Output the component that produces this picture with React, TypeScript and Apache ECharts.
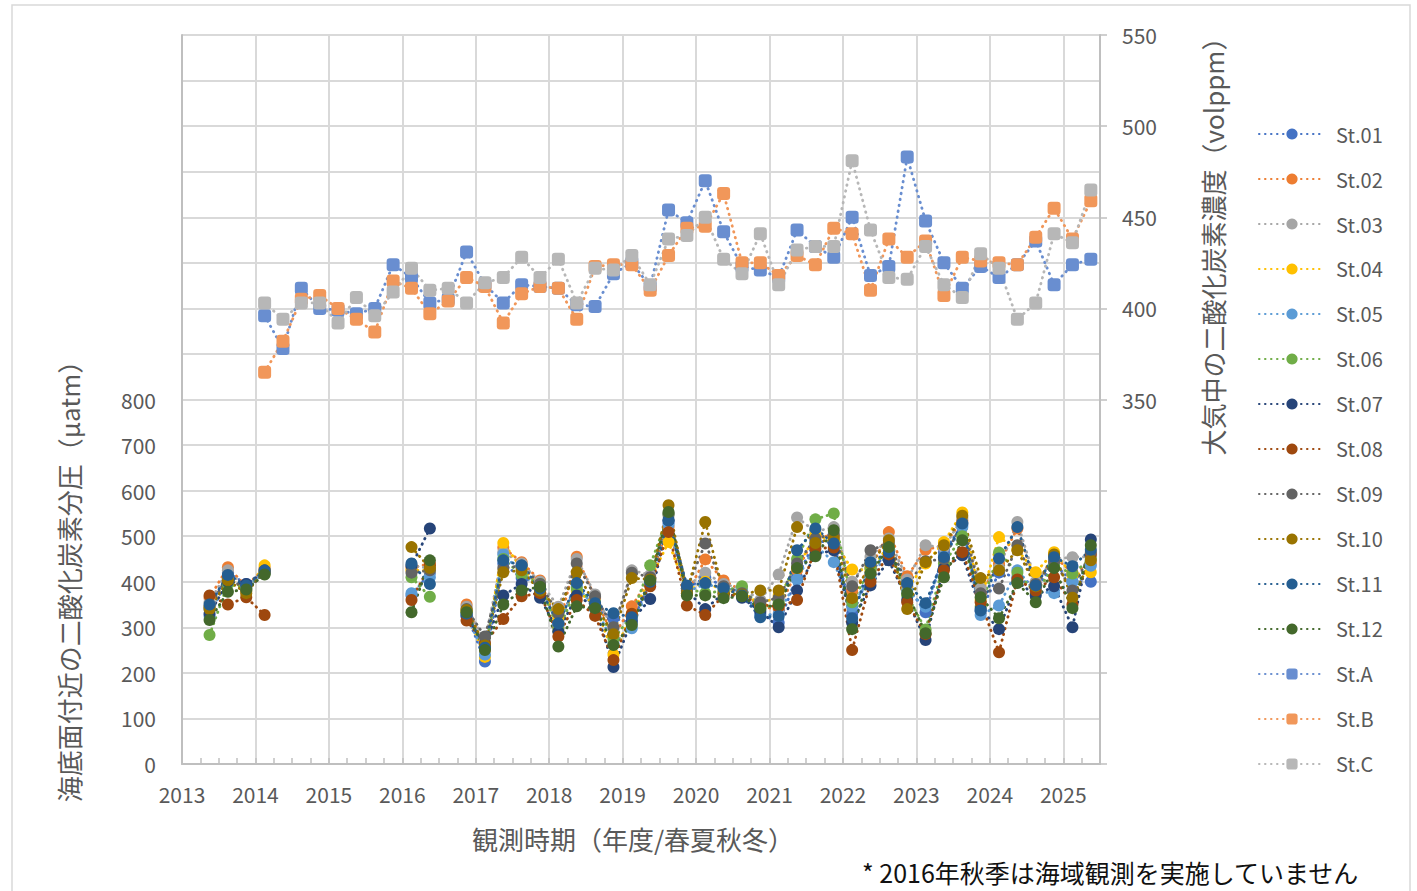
import React, { useEffect, useRef } from "react";
import * as echarts from "echarts";

const _ = null;

// Season slots: fiscal-year quarters, first slot = spring 2013 (index 0) ... spring 2025 (index 48)
const seasonCount = 49;
const firstSlot = 2013.375;
const slotWidth = 0.25;

const stationNames = ["St.01", "St.02", "St.03", "St.04", "St.05", "St.06", "St.07", "St.08", "St.09", "St.10", "St.11", "St.12"];
const atmosNames = ["St.A", "St.B", "St.C"];

const st01 = [340, 420, 395, 425, _, _, _, _, _, _, _, 370, 420, _, 330, 225, 440, 408, 395, 310, 395, 340, 320, 310, 400, 530, 385, 410, 390, 375, 330, 310, 410, 490, 485, 330, 420, 470, 390, 333, 465, 525, 335, 420, 410, 385, 440, 400, 400];
const st02 = [365, 432, 390, 430, _, _, _, _, _, _, _, 430, 440, _, 350, 250, 475, 443, 403, 300, 455, 365, 280, 346, 410, 520, 375, 449, 403, 380, 345, 340, 425, 500, 500, 380, 430, 509, 412, 470, 480, 535, 375, 440, 517, 395, 455, 420, 440];
const st03 = [355, 425, 385, 428, _, _, _, _, _, _, _, 435, 430, _, 345, 270, 465, 440, 400, 345, 450, 372, 295, 425, 415, 545, 390, 420, 395, 385, 360, 416, 541, 510, 520, 400, 455, 495, 405, 480, 475, 540, 385, 430, 531, 400, 450, 454, 455];
const st04 = [345, 410, 380, 436, _, _, _, _, _, _, _, 425, 425, _, 335, 235, 485, 430, 390, 320, 380, 350, 240, 330, 405, 487, 380, 400, 380, 378, 350, 370, 430, 502, 490, 427, 425, 480, 385, 440, 487, 552, 360, 498, 470, 421, 465, 415, 421];
const st05 = [325, 408, 388, 420, _, _, _, _, _, _, _, 375, 410, _, 325, 240, 460, 420, 385, 305, 390, 345, 265, 298, 395, 525, 378, 395, 385, 380, 325, 330, 405, 480, 443, 345, 410, 465, 380, 345, 455, 520, 327, 348, 425, 380, 375, 400, 435];
const st06 = [283, 395, 386, 418, _, _, _, _, _, _, _, 410, 367, _, 335, 255, 450, 415, 395, 295, 385, 355, 275, 325, 436, 548, 385, 375, 380, 390, 340, 355, 450, 537, 550, 355, 430, 470, 370, 295, 440, 500, 345, 464, 420, 375, 435, 418, 450];
const st07 = [330, 400, 395, 422, _, _, _, _, _, _, _, 435, 517, _, 325, 260, 370, 395, 365, 290, 370, 345, 213, 315, 362, 535, 380, 340, 375, 365, 335, 300, 381, 460, 469, 310, 392, 447, 360, 272, 430, 458, 340, 296, 400, 370, 390, 300, 493];
const st08 = [370, 350, 366, 327, _, _, _, _, _, _, _, 360, 436, _, 315, 265, 318, 368, 375, 280, 360, 325, 228, 330, 390, 509, 348, 327, 370, 370, 350, 345, 360, 473, 475, 250, 400, 460, 355, 285, 425, 465, 355, 245, 405, 380, 410, 350, 460];
const st09 = [345, 412, 380, 420, _, _, _, _, _, _, _, 420, 425, _, 340, 280, 430, 435, 395, 330, 440, 368, 300, 420, 410, 550, 385, 484, 390, 375, 355, 365, 440, 495, 505, 390, 469, 485, 395, 445, 450, 530, 375, 385, 480, 395, 445, 381, 465];
const st10 = [340, 403, 375, 425, _, _, _, _, _, _, _, 476, 430, _, 338, 260, 421, 425, 380, 340, 421, 350, 285, 408, 405, 568, 375, 531, 375, 372, 381, 381, 520, 485, 495, 364, 440, 491, 340, 443, 480, 545, 408, 425, 469, 390, 460, 365, 447];
const st11 = [350, 415, 392, 425, _, _, _, _, _, _, _, 440, 395, _, 330, 255, 447, 436, 385, 309, 397, 353, 331, 322, 400, 535, 392, 397, 386, 370, 322, 325, 469, 517, 484, 320, 443, 465, 397, 353, 454, 528, 337, 451, 520, 392, 454, 434, 470];
const st12 = [316, 378, 383, 416, _, _, _, _, _, _, _, 333, 447, _, 333, 250, 350, 381, 389, 258, 346, 342, 261, 305, 403, 553, 370, 370, 364, 368, 342, 350, 430, 456, 513, 296, 418, 476, 375, 287, 410, 491, 366, 320, 397, 355, 430, 342, 480];

const stA = [_, _, _, 396, 378, 411, 400, 399, 397, 400, 424, 417, 403, 405, 431, 413, 403, 413, 412, 411, 402, 401, 419, 425, 412, 454, 447, 470, 442, 423, 421, 417, 443, 434, 428, 450, 418, 423, 483, 448, 425, 411, 423, 417, 424, 437, 413, 424, 427];
const stB = [_, _, _, 365, 382, 405, 407, 400, 394, 387, 415, 411, 397, 404, 417, 412, 392, 408, 412, 411, 394, 423, 424, 424, 410, 429, 444, 445, 463, 425, 425, 418, 429, 424, 444, 441, 410, 438, 428, 437, 407, 428, 426, 425, 424, 439, 455, 438, 459];
const stC = [_, _, _, 403, 394, 403, 403, 392, 406, 396, 409, 422, 410, 411, 403, 414, 417, 428, 417, 427, 403, 422, 421, 429, 413, 438, 440, 450, 427, 419, 441, 413, 432, 434, 434, 481, 443, 417, 416, 434, 413, 406, 430, 422, 394, 403, 441, 436, 465];

const stationValues = [st01, st02, st03, st04, st05, st06, st07, st08, st09, st10, st11, st12];
const atmosValues = [stA, stB, stC];

const stationColors = ["#4472C4", "#ED7D31", "#A5A5A5", "#FFC000", "#5B9BD5", "#70AD47", "#264478", "#9E480E", "#636363", "#997300", "#255E91", "#43682B"];
const atmosColors = ["#698ED0", "#F1975A", "#B7B7B7"];

const leftTicksShownMax = 800;
const rightTicksShownMin = 350;

const FONT = "'Noto Sans CJK JP', 'Noto Sans', sans-serif";

export default function App() {
  const ref = useRef<HTMLDivElement>(null);
  useEffect(() => {
    if (!ref.current) return;
    const chart = echarts.init(ref.current, undefined, { renderer: "svg" });
    const xs = Array.from({ length: seasonCount }, (_v, i) => firstSlot + slotWidth * i);
    const toData = (arr: (number | null)[]) => arr.map((v, i) => [xs[i], v == null ? "-" : v]);
    const dotted = [0.5, 5.5];
    const series: any[] = [];
    stationNames.forEach((name, i) => {
      series.push({
        name,
        type: "line",
        yAxisIndex: 0,
        data: toData(stationValues[i]),
        symbol: "circle",
        symbolSize: 12,
        connectNulls: false,
        itemStyle: { color: stationColors[i] },
        lineStyle: { color: stationColors[i], width: 2.8, type: dotted, cap: "round" },
        emphasis: { disabled: true },
      });
    });
    atmosNames.forEach((name, i) => {
      series.push({
        name,
        type: "line",
        yAxisIndex: 1,
        data: toData(atmosValues[i]),
        symbol: "roundRect",
        symbolSize: 13,
        itemStyle: { color: atmosColors[i] },
        lineStyle: { color: atmosColors[i], width: 2.8, type: dotted, cap: "round" },
        emphasis: { disabled: true },
      });
    });
    const axisLabelColor = "#595959";
    chart.setOption({
      animation: false,
      textStyle: { fontFamily: FONT },
      grid: { left: 182, right: 317, top: 35, bottom: 127, containLabel: false },
      xAxis: {
        type: "value",
        min: 2013,
        max: 2025.5,
        interval: 1,
        axisLine: { show: true, lineStyle: { color: "#bfbfbf", width: 2 } },
        axisTick: { show: true, inside: true, length: 6, lineStyle: { color: "#bfbfbf", width: 1.5 } },
        minorTick: { show: true, splitNumber: 4, length: 6, lineStyle: { color: "#bfbfbf", width: 1.5 } },
        splitLine: { show: true, lineStyle: { color: "#d9d9d9", width: 2 } },
        axisLabel: {
          color: axisLabelColor,
          fontSize: 21,
          fontFamily: FONT,
          margin: 19,
          showMaxLabel: false,
          formatter: (v: number) => (Number.isInteger(v) ? String(v) : ""),
        },
      },
      yAxis: [
        {
          type: "value",
          min: 0,
          max: 1600,
          interval: 100,
          axisLine: { show: true, lineStyle: { color: "#bfbfbf", width: 2 } },
          axisTick: { show: false },
          splitLine: { show: true, lineStyle: { color: "#d9d9d9", width: 2 } },
          axisLabel: {
            color: axisLabelColor,
            fontSize: 21,
            fontFamily: FONT,
            margin: 26,
            formatter: (v: number) => (v <= leftTicksShownMax ? String(v) : ""),
          },
        },
        {
          type: "value",
          min: 150,
          max: 550,
          interval: 50,
          position: "right",
          axisLine: { show: true, lineStyle: { color: "#bfbfbf", width: 2 } },
          axisTick: { show: true, length: 7, lineStyle: { color: "#bfbfbf", width: 1.5 } },
          splitLine: { show: false },
          axisLabel: {
            color: axisLabelColor,
            fontSize: 21,
            fontFamily: FONT,
            margin: 22,
            formatter: (v: number) => (v >= rightTicksShownMin ? String(v) : ""),
          },
        },
      ],
      legend: {
        orient: "vertical",
        left: 1253,
        top: 119,
        itemWidth: 66,
        itemHeight: 14,
        itemGap: 25,
        textStyle: { color: axisLabelColor, fontSize: 20, fontFamily: FONT, padding: [0, 0, 0, 6] },
        data: [...stationNames, ...atmosNames],
      },
      graphic: [
        {
          type: "rect",
          shape: { x: 12, y: 5, width: 1398, height: 896 },
          style: { fill: "none", stroke: "#d9d9d9", lineWidth: 1.5 },
          silent: true,
        },
        {
          type: "text",
          x: 68,
          y: 575,
          rotation: Math.PI / 2,
          style: {
            text: "海底面付近の二酸化炭素分圧（µatm）",
            fill: axisLabelColor,
            font: `26px ${FONT}`,
            align: "center",
            verticalAlign: "middle",
          },
        },
        {
          type: "text",
          x: 1212,
          y: 240,
          rotation: Math.PI / 2,
          style: {
            text: "大気中の二酸化炭素濃度（volppm）",
            fill: axisLabelColor,
            font: `26px ${FONT}`,
            align: "center",
            verticalAlign: "middle",
          },
        },
        {
          type: "text",
          x: 633,
          y: 838,
          style: {
            text: "観測時期（年度/春夏秋冬）",
            fill: axisLabelColor,
            font: `26px ${FONT}`,
            align: "center",
            verticalAlign: "middle",
          },
        },
        {
          type: "text",
          x: 862,
          y: 872,
          style: {
            text: "* 2016年秋季は海域観測を実施していません",
            fill: "#111111",
            font: `25px ${FONT}`,
            align: "left",
            verticalAlign: "middle",
          },
        },
      ],
      series,
    });
    return () => chart.dispose();
  }, []);
  return <div ref={ref} style={{ position: "fixed", left: 0, top: 0, width: 1417, height: 891, background: "#fff" }} />;
}
